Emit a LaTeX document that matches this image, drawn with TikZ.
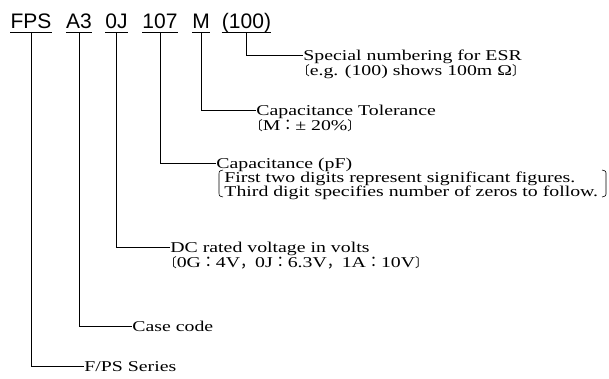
\documentclass[tikz,border=0pt]{standalone}
\usepackage{fontspec}
\setmainfont{Liberation Serif}[FakeStretch=1.32]
\newfontfamily\codefont{Liberation Sans}
\newfontfamily\cjk{Noto Sans CJK JP}
\newfontfamily\cjkhalf{Noto Sans CJK JP}[RawFeature=+halt, Scale=0.85]
\newcommand\kakkoL{{\cjkhalf 〔}}
\newcommand\kakkoR{{\cjkhalf 〕}}
\newcommand\zcolon{{\cjk ：}}
\newcommand\zcomma{{\cjk ，}}
\begin{document}
\begin{tikzpicture}[x=1pt, y=-1pt, line width=0.8pt,
        code/.style={font=\codefont\fontsize{21}{21}\selectfont, inner sep=0pt, text depth=4pt, anchor=base},
        desc/.style={font=\fontsize{15}{14}\selectfont, inner sep=0pt, text height=10pt, text depth=0pt, anchor=west}]
        \useasboundingbox (0, 0) rectangle (609, 378);
        % part number
        \node[code] (fps) at (31, 28) {FPS};
        \node[code] (case) at (79, 28) {A3};
        \node[code] (volt) at (116.5, 28) {0J};
        \node[code] (cap) at (160, 28) {107};
        \node[code] (tol) at (201, 28) {M};
        \node[code] (esr) at (246.5, 28) {(100)};
        \foreach \c in {fps, case, volt, cap, tol, esr}
                \draw (\c.south west) -- (\c.south east);
        % explanations
        \node[desc] (esrtext) at (303, 55) {Special numbering for ESR};
        \node[desc] (esrnote) at (303, 70) {\kakkoL e.g. (100) shows 100m Ω\kakkoR};
        \node[desc] (toltext) at (256, 110) {Capacitance Tolerance};
        \node[desc] (tolnote) at (256, 125) {\kakkoL M\zcolon ± 20\%\kakkoR};
        \node[desc] (captext) at (216, 163) {Capacitance (pF)};
        \node[desc] (capnote1) at (224, 177) {First two digits represent significant figures.};
        \node[desc] (capnote2) at (224, 191) {Third digit specifies number of zeros to follow.};
        \node[desc] (volttext) at (170, 247) {DC rated voltage in volts};
        \node[desc] (voltnote) at (170, 262) {\kakkoL 0G\zcolon 4V\zcomma 0J\zcolon 6.3V\zcomma 1A\zcolon 10V\kakkoR};
        \node[desc] (casetext) at (132, 326) {Case code};
        \node[desc] (fpstext) at (84, 366) {F/PS Series};
        % leaders
        \draw (esr.south) |- (esrtext.west);
        \draw (tol.south) |- (toltext.west);
        \draw (cap.south) |- (captext.west);
        \draw (volt.south) |- (volttext.west);
        \draw (case.south) |- (casetext.west);
        \draw (fps.south) |- (fpstext.west);
        % brackets round the capacitance note
        \draw[line width=0.6pt] (223, 170) .. controls (219, 171) .. (219, 175) -- (219, 192) .. controls (219, 196) .. (223, 197);
        \draw[line width=0.6pt] (602, 170) .. controls (606, 171) .. (606, 175) -- (606, 192) .. controls (606, 196) .. (602, 197);
\end{tikzpicture}
\end{document}
